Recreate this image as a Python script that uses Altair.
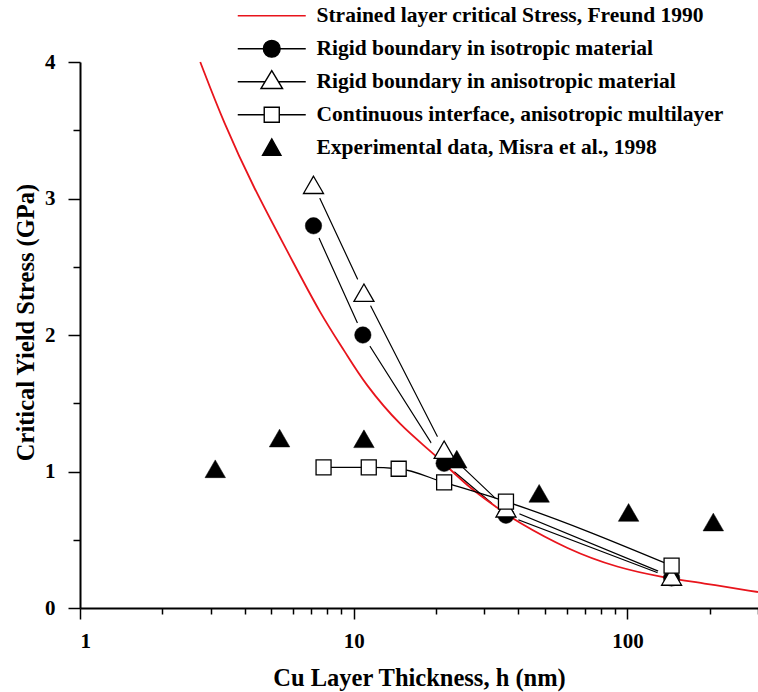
import altair as alt
import pandas as pd

# ---------------- data ----------------
freund_h = [2.75, 3.34, 4.30, 5.88, 7.57, 9.35, 10.9, 14.9, 19.6, 26.1, 34.5, 38.5, 60.8, 92.7, 133, 187, 300]
freund_s = [4.0, 3.56, 3.08, 2.57, 2.15, 1.87, 1.65, 1.326, 1.135, 0.886, 0.718, 0.645, 0.425, 0.293, 0.227, 0.183, 0.117]

iso_h = [7.13, 10.8, 21.4, 36, 145]
iso_s = [2.80, 2.00, 1.06, 0.68, 0.22]

aniso_h = [7.13, 10.9, 21.4, 36, 145]
aniso_s = [3.10, 2.31, 1.16, 0.73, 0.23]

cont_h = [7.76, 11.35, 14.6, 21.4, 36, 145]
cont_s = [1.03, 1.03, 1.02, 0.92, 0.78, 0.31]

exp_h = [3.12, 5.36, 10.9, 23.8, 47.6, 101, 206]
exp_s = [1.02, 1.245, 1.24, 1.09, 0.84, 0.70, 0.63]

series_names = [
    "Strained layer critical Stress, Freund 1990",
    "Rigid boundary in isotropic material",
    "Rigid boundary in anisotropic material",
    "Continuous interface, anisotropic multilayer",
    "Experimental data, Misra et al., 1998",
]

x_major = [1, 10, 100]
x_minor = [2, 3, 4, 5, 6, 7, 8, 9, 20, 30, 40, 50, 60, 70, 80, 90, 200, 300]
y_major = [0, 1, 2, 3, 4]
y_minor = [0.5, 1.5, 2.5, 3.5]

# ---------------- styling ----------------
FONT = "Liberation Serif"
RED = "#e8141c"

def frame(h, s):
    return pd.DataFrame({"h": h, "s": s})

xs = alt.Scale(type="log", domain=[1, 300], nice=False)
ys = alt.Scale(domain=[0, 4], nice=False)

# main axes (labels, titles, long ticks)
x_main = alt.X("h:Q", scale=xs, axis=alt.Axis(
    orient="bottom", values=x_major, ticks=True, tickSize=11, tickColor="black", tickWidth=1.5,
    title="Cu Layer Thickness, h (nm)", labelPadding=11, titlePadding=15, format="d"))
y_main = alt.Y("s:Q", scale=ys, axis=alt.Axis(
    orient="left", values=y_major, ticks=True, tickSize=12, tickColor="black", tickWidth=1.5,
    title="Critical Yield Stress (GPa)", labelPadding=13, titleX=-42, titleY=260, format="d"))

# minor-tick axes
x_minor_enc = alt.X("h:Q", scale=xs, axis=alt.Axis(
    orient="bottom", values=x_minor, ticks=True, tickSize=6, tickColor="black", tickWidth=1.5,
    labels=False, title=None, domain=False))
y_minor_enc = alt.Y("s:Q", scale=ys, axis=alt.Axis(
    orient="left", values=y_minor, ticks=True, tickSize=7, tickColor="black", tickWidth=1.5,
    labels=False, title=None, domain=False))

x_plain = alt.X("h:Q", scale=xs, axis=None)
y_plain = alt.Y("s:Q", scale=ys, axis=None)

iso_df = frame(iso_h, iso_s)
an_df = frame(aniso_h, aniso_s)
co_df = frame(cont_h, cont_s)

iso_line = alt.Chart(iso_df).mark_line(color="black", strokeWidth=1.2).encode(x=x_minor_enc, y=y_minor_enc)
an_line = alt.Chart(an_df).mark_line(color="black", strokeWidth=1.2).encode(x=x_plain, y=y_plain)

# white halos so the model lines stop short of their symbols
iso_halo = alt.Chart(iso_df).mark_point(
    shape="circle", filled=True, fill="white", strokeWidth=0, size=700, opacity=1
).encode(x=x_plain, y=y_plain)
an_halo = alt.Chart(an_df).mark_point(
    shape="circle", filled=True, fill="white", strokeWidth=0, size=850, opacity=1
).encode(x=x_plain, y=y_plain)

freund = alt.Chart(frame(freund_h, freund_s)).mark_line(
    color=RED, strokeWidth=1.8, interpolate="basis"
).encode(x=x_main, y=y_main)

co_line = alt.Chart(co_df).mark_line(
    color="black", strokeWidth=1.3, interpolate="monotone"
).encode(x=x_plain, y=y_plain)

iso_pts = alt.Chart(iso_df).mark_point(
    shape="circle", filled=True, fill="black", stroke="black", strokeWidth=0.5, size=270, opacity=1
).encode(x=x_plain, y=y_plain)
an_pts = alt.Chart(an_df).mark_point(
    shape="triangle-up", filled=True, fill="white", stroke="black", strokeWidth=1.3, size=400, opacity=1
).encode(x=x_plain, y=y_plain)
co_pts = alt.Chart(co_df).mark_point(
    shape="square", filled=True, fill="white", stroke="black", strokeWidth=1.3, size=225, opacity=1
).encode(x=x_plain, y=y_plain)
ex_pts = alt.Chart(frame(exp_h, exp_s)).mark_point(
    shape="triangle-up", filled=True, fill="black", stroke="black", strokeWidth=0.5, size=420, opacity=1
).encode(x=x_plain, y=y_plain)

# legend symbols: line + marker as custom SVG paths (units of sqrt(symbolSize)/2 px)
legend_paths = [
    "M-4.25,0L4.25,0",
    "M-4.25,0L4.25,0M1.05,0A1.05,1.05,0,1,1,-1.05,0A1.05,1.05,0,1,1,1.05,0Z",
    "M-4.25,0L-0.84,0M0.84,0L4.25,0M0,-1.4L1.35,0.85L-1.35,0.85Z",
    "M-4.25,0L-0.94,0M0.94,0L4.25,0M-0.94,-0.94L0.94,-0.94L0.94,0.94L-0.94,0.94Z",
    "M0,-1.1L1.15,0.95L-1.15,0.95Z",
]
legend_fills = ["white", "black", "white", "white", "black"]
legend_strokes = [RED, "black", "black", "black", "black"]

legend_def = alt.Legend(
    title=None,
    orient="none",
    legendX=181,
    legendY=-57,
    padding=0,
    labelFont=FONT,
    labelFontSize=21.5,
    labelFontWeight="bold",
    labelColor="black",
    labelLimit=700,
    symbolSize=256,
    symbolStrokeWidth=1.4,
    labelOffset=34,
    rowPadding=7,
    gridAlign="all",
)

legend_layer = alt.Chart(pd.DataFrame({"series": series_names})).transform_filter("false").mark_point(
    opacity=1, filled=True
).encode(
    shape=alt.Shape("series:N", scale=alt.Scale(domain=series_names, range=legend_paths), legend=legend_def),
    fill=alt.Fill("series:N", scale=alt.Scale(domain=series_names, range=legend_fills), legend=legend_def),
    stroke=alt.Stroke("series:N", scale=alt.Scale(domain=series_names, range=legend_strokes), legend=legend_def),
)

chart = alt.layer(
    iso_line, an_line, iso_halo, an_halo, freund, co_line,
    iso_pts, an_pts, co_pts, ex_pts, legend_layer
).resolve_axis(
    x="independent", y="independent"
).properties(
    width=678,
    height=546,
    autosize=alt.AutoSizeParams(type="none"),
    padding={"left": 80, "top": 62, "right": 0, "bottom": 84},
    background="white",
).configure_view(
    stroke=None
).configure_axis(
    grid=False,
    domainColor="black",
    domainWidth=2,
    labelFont=FONT,
    labelFontSize=21,
    labelFontWeight="bold",
    labelColor="black",
    titleFont=FONT,
    titleFontSize=24.5,
    titleFontWeight="bold",
    titleColor="black",
)

chart.save("out.html", embed_options={"renderer": "svg", "actions": False})
